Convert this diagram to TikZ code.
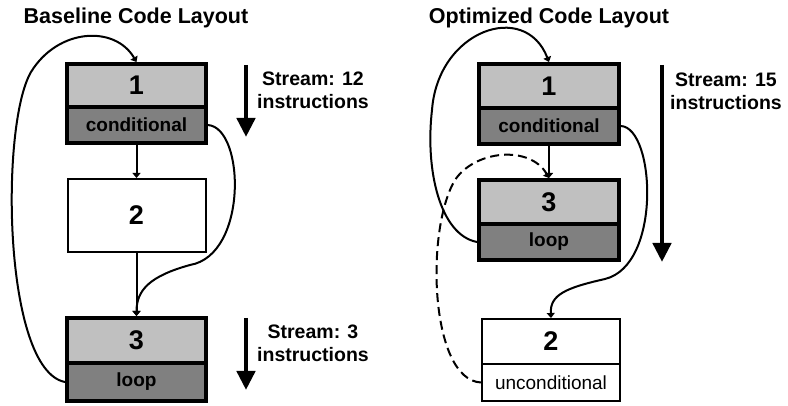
\documentclass[tikz,border=0pt]{standalone}
\usepackage{fontspec}
\setmainfont{Liberation Sans}
\usetikzlibrary{arrows.meta}
\definecolor{lg}{HTML}{C0C0C0}
\definecolor{dg}{HTML}{808080}
\begin{document}
\begin{tikzpicture}[x=1pt,y=-1pt,
  heavybox/.style={draw, line width=4pt, minimum width=139pt, inner sep=0pt},
  lightbox/.style={draw, line width=2pt, minimum width=138pt, inner sep=0pt, fill=white},
  numtext/.style={font=\fontsize{27}{32}\selectfont\bfseries},
  labtext/.style={font=\fontsize{19}{22}\selectfont\bfseries},
  plaintext/.style={font=\fontsize{19}{22}\selectfont},
  titletext/.style={font=\fontsize{21.5}{25}\selectfont\bfseries},
  streamtext/.style={font=\fontsize{19.5}{23}\selectfont\bfseries, align=center},
  conn/.style={line width=2pt, -{Triangle[length=5pt,width=8pt]}},
  dconn/.style={conn, dash pattern=on 9pt off 5pt},
  streamarrow/.style={line width=4.5pt, -{Triangle[width=18pt,length=19pt]}}]
\useasboundingbox (0,0) rectangle (788,406);

% titles
\node[titletext] (tl) at (136,18) {Baseline Code Layout};
\node[titletext] (tr) at (549,18) {Optimized Code Layout};

% ---------- left panel ----------
\node[heavybox, fill=lg, minimum height=43pt, numtext] (a1t) at (136.5,85.5) {1};
\node[heavybox, fill=dg, minimum height=36pt, labtext] (a1b) at (136.5,125) {conditional};
\node[lightbox, minimum height=73pt, numtext] (a2) at (136.5,215.5) {2};
\node[heavybox, fill=lg, minimum height=45pt, numtext] (a3t) at (136.5,340.5) {3};
\node[heavybox, fill=dg, minimum height=38pt, labtext] (a3b) at (136.5,382) {loop};

\draw[conn] (a1b.south) -- (a2.north);
\draw[conn] (a2.south) -- (a3t.north);
\coordinate (ak) at (31,72);
\draw[conn] (a3b.west) .. controls (3,370) and (0,125) .. (ak)
  .. controls (58,28) and (115,25) .. (a1t.north);
\coordinate (aj) at (190,265);
\draw[conn] (a1b.east) .. controls (245,128) and (248,255) .. (aj)
  .. controls (150,276) and (136.5,290) .. (a3t.north);

\coordinate (s1a) at (246,65);
\coordinate (s1b) at (246,137);
\draw[streamarrow] (s1a) -- (s1b);
\node[streamtext] (st1) at (313,90) {Stream: 12\\instructions};
\coordinate (s2a) at (246,318);
\coordinate (s2b) at (246,390);
\draw[streamarrow] (s2a) -- (s2b);
\node[streamtext] (st2) at (313,343) {Stream: 3\\instructions};

% ---------- right panel ----------
\node[heavybox, fill=lg, minimum width=140pt, minimum height=44pt, numtext] (b1t) at (549,86) {1};
\node[heavybox, fill=dg, minimum width=140pt, minimum height=36pt, labtext] (b1b) at (549,126) {conditional};
\node[heavybox, fill=lg, minimum width=140pt, minimum height=44pt, numtext] (b3t) at (549,202) {3};
\node[heavybox, fill=dg, minimum width=140pt, minimum height=36pt, labtext] (b3b) at (549,242) {loop};
\node[lightbox, minimum height=45pt, numtext] (b2t) at (551,341.5) {2};
\node[lightbox, minimum height=37pt, plaintext] (b2b) at (551,382.5) {unconditional};

\draw[conn] (b1b.south) -- (b3t.north);
\coordinate (bk) at (432,110);
\draw[conn] (b3b.west) .. controls (440,235) and (425,170) .. (bk)
  .. controls (438,30) and (525,0) .. (b1t.north);
\coordinate (bj) at (605,279);
\draw[conn] (b1b.east) .. controls (655,128) and (662,265) .. (bj)
  .. controls (565,288) and (550,295) .. (b2t.north);
\coordinate (bd) at (455,180);
\draw[dconn] (b2b.west) .. controls (430,380) and (425,230) .. (bd)
  .. controls (475,150) and (530,145) .. (b3t.north);

\coordinate (s3a) at (662,65);
\coordinate (s3b) at (662,262);
\draw[streamarrow] (s3a) -- (s3b);
\node[streamtext] (st3) at (726,91) {Stream: 15\\instructions};
\end{tikzpicture}
\end{document}
